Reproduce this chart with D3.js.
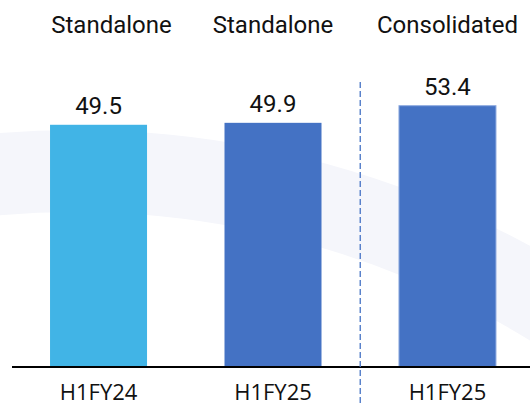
<!DOCTYPE html>
<html>
<head>
<meta charset="utf-8">
<script src="https://cdn.jsdelivr.net/npm/d3@7"></script>
<style>
  html, body { margin: 0; padding: 0; background: #fff; }
  svg { display: block; }
</style>
</head>
<body>
<svg width="530" height="406"></svg>
<script>
const svg = d3.select('svg');
const WIDTH = +svg.attr('width');
const HEIGHT = +svg.attr('height');

// data
const periods = ['H1FY24', 'H1FY25', 'H1FY25 '];
const basis = ['Standalone', 'Standalone', 'Consolidated'];
const values = [49.5, 49.9, 53.4];

const baseline = 367;
const xScale = d3.scaleBand()
    .domain(periods)
    .range([12, 534])
    .paddingInner(0.444)
    .paddingOuter(0.218);
const yScale = d3.scaleLinear()
    .domain([0, 75])
    .range([baseline, 0]);

// faint background swoosh
const cx = 75, cy = 1082;
const arc = d3.arc()
    .innerRadius(870)
    .outerRadius(952)
    .startAngle(-Math.PI / 2)
    .endAngle(Math.PI / 2);
svg.append('path')
    .attr('transform', `translate(${cx},${cy})`)
    .attr('d', arc)
    .style('fill', '#f5f6fb');

// bars
svg.selectAll('.bar')
    .data(values)
    .enter().append('rect')
    .attr('class', 'bar')
    .attr('x', (d, i) => xScale(periods[i]))
    .attr('y', d => yScale(d))
    .attr('width', xScale.bandwidth())
    .attr('height', d => baseline - yScale(d))
    .style('fill', (d, i) => i === 0 ? '#41b4e6' : '#4472c4')
    .style('stroke', (d, i) => i === 2 ? '#8eaadf' : 'none')
    .style('stroke-width', 1);

// value labels
svg.selectAll('.val')
    .data(values)
    .enter().append('text')
    .attr('class', 'val')
    .attr('x', (d, i) => xScale(periods[i]) + xScale.bandwidth() / 2)
    .attr('y', d => yScale(d) - 11)
    .attr('text-anchor', 'middle')
    .style('font-family', 'Roboto, sans-serif')
    .style('font-size', '24px')
    .style('fill', '#111')
    .text(d => d.toFixed(1));

// basis headers
svg.selectAll('.head')
    .data(basis)
    .enter().append('text')
    .attr('class', 'head')
    .attr('x', (d, i) => xScale(periods[i]) + xScale.bandwidth() / 2 + (i === 0 ? 13 : 0))
    .attr('y', 33)
    .attr('text-anchor', 'middle')
    .style('font-family', 'Roboto, sans-serif')
    .style('font-size', '24px')
    .style('fill', '#111')
    .text(d => d);

// x axis
const xAxis = d3.axisBottom(xScale).tickSize(0).tickPadding(17).tickFormat(d => d.trim());
const axisG = svg.append('g')
    .attr('class', 'x-axis')
    .attr('transform', `translate(0,${baseline})`)
    .call(xAxis);
axisG.select('.domain').remove();
axisG.append('line')
    .attr('x1', 12).attr('x2', WIDTH)
    .attr('y1', 0).attr('y2', 0)
    .style('stroke', '#000')
    .style('stroke-width', 2);
axisG.selectAll('.tick text')
    .style('font-family', '"Open Sans", sans-serif')
    .style('font-size', '22px')
    .style('fill', '#111');

// divider between standalone and consolidated
const divX = (xScale(periods[1]) + xScale.bandwidth() + xScale(periods[2])) / 2;
svg.append('line')
    .attr('x1', divX).attr('x2', divX)
    .attr('y1', 82).attr('y2', HEIGHT)
    .style('stroke', '#4472c4')
    .style('stroke-width', 1.3)
    .style('stroke-dasharray', '6,3');
</script>
</body>
</html>
